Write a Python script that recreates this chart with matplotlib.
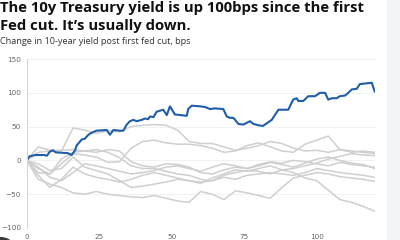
import numpy as np
import matplotlib
matplotlib.use("Agg")
import matplotlib.pyplot as plt
from matplotlib.patches import Rectangle, Circle

# ===== Data (bps change after first Fed cut) =====
# current cycle
cur_x = [0, 1, 3, 6, 7, 8, 9, 10, 13, 14, 15.5, 16.7, 17.2, 19, 20, 21.3, 22, 24, 27.6, 28.7,
         29.9, 32.2, 33.3, 34.5, 35.6, 36.8, 37.9, 39.7, 40.8, 41.9, 42.5, 43.7, 44.8, 47.1,
         48.3, 49.4, 51.1, 55.2, 55.7, 56.9, 59.8, 61.5, 63.2, 64.9, 67.8, 69, 70.1, 71.3,
         73, 74.7, 77, 78.2, 79.9, 81.5, 82.8, 84.5, 86.8, 90.2, 91.9, 93.1, 93.7, 95.4,
         97.1, 99.4, 101.1, 102.9, 104, 105.2, 106.9, 108, 109.8, 110.9, 112.1, 113.8,
         114.9, 117.2, 119, 120]
cur_y = [0, 6, 8, 8, 7, 13, 15, 12, 11, 11, 8, 15, 22, 31, 32, 38, 40, 44, 45, 38,
         45, 44, 44, 53, 58, 60, 58, 60, 62, 61, 65, 64, 72, 75,
         67, 80, 68, 66, 76, 81, 80, 79, 76, 77, 76, 65, 63, 63,
         54, 53, 58, 54, 52, 51, 55, 60, 75, 75, 90, 92, 88, 88,
         95, 95, 100, 100, 90, 92, 92, 95, 96, 100, 105, 106,
         113, 114, 115, 102]

# previous cycles, sampled every 4 days
prev_x = list(range(0, 121, 4))
prev_1 = [0, 12, 14, 14, 48, 45, 40, 44, 42, 50, 52, 53, 52, 45, 28, 25, 25, 20, 15, 18,
          22, 28, 25, 18, 14, 15, 12, 16, 14, 12, 10]
prev_2 = [0, -18, -20, -5, 10, 8, 5, -3, -2, 18, 28, 30, 26, 24, 24, 22, 18, 12, 14, 22,
          26, 20, 14, 12, 24, 30, 36, 16, 12, 14, 12]
prev_3 = [0, 20, 15, 15, 16, 14, 12, 16, 14, -2, -8, -10, -5, -6, -10, -18, -20, -14, -10, -12,
          -8, -3, -6, -10, -4, 2, 5, 0, -4, -6, -12]
prev_4 = [0, -12, -20, 2, 12, 14, 16, 12, 4, -8, -12, -12, -16, -20, -22, -28, -30, -22, -18, -15,
          -16, -20, -14, -12, -8, -4, 2, 6, 10, 8, 7]
prev_5 = [0, -22, -40, -28, -10, -20, -25, -28, -32, -28, -22, -18, -22, -26, -30, -34, -26, -20, -14, -16,
          -12, -8, -14, -18, -26, -30, -44, -58, -62, -68, -75]
prev_6 = [0, -28, -35, -40, -48, -50, -46, -50, -52, -54, -55, -52, -56, -60, -62, -46, -50, -58, -45, -48,
          -52, -56, -40, -26, -22, -18, -20, -24, -26, -28, -31]
prev_7 = [0, -5, -15, -12, 5, -10, -15, -20, -30, -40, -38, -35, -32, -28, -30, -32, -30, -25, -28, -22,
          -20, -18, -20, -22, -18, -12, -15, -18, -20, -22, -25]
prev_8 = [0, -10, -25, -30, -18, -5, -8, -12, -16, -20, -18, -15, -10, -8, -12, -16, -10, -5, -8, -12,
          -6, -2, -4, 0, -2, -5, -8, -3, -6, -8, -10]
prev_cycles = [prev_1, prev_2, prev_3, prev_4, prev_5, prev_6, prev_7, prev_8]

x_ticks = [0, 25, 50, 75, 100]
y_ticks = [-100, -50, 0, 50, 100, 150]

# ===== Plot =====
fig = plt.figure(figsize=(4, 2.4), dpi=100)
ax = fig.add_axes([0.0667, 0.05, 0.87, 0.704])

for ys in prev_cycles:
    ax.plot(prev_x, ys, color='#cfcfcf', linewidth=1.1, solid_joinstyle='round')
ax.plot(cur_x, cur_y, color='#1f5ea8', linewidth=1.5, solid_joinstyle='round')

ax.set_xlim(0, 120)
ax.set_ylim(-100, 150)
ax.set_xticks(x_ticks)
ax.set_yticks(y_ticks)
ax.tick_params(length=0, labelsize=5.2, colors='#666666', pad=4)
ax.grid(axis='y', color='#efefef', linewidth=0.6)
ax.set_axisbelow(True)
for s in ['top', 'right', 'bottom']:
    ax.spines[s].set_visible(False)
ax.spines['left'].set_color('#d6d6d6')
ax.spines['left'].set_linewidth(0.8)

# titles
fig.text(0.0, 1 - 11.7 / 240, "The 10y Treasury yield is up 100bps since the first",
         fontsize=10.7, fontweight='bold', family='Open Sans', color='#111111', va='baseline')
fig.text(0.0, 1 - 30 / 240, "Fed cut. It\u2019s usually down.",
         fontsize=10.7, fontweight='bold', family='Open Sans', color='#111111', va='baseline')
fig.text(0.0, 1 - 44.3 / 240, "Change in 10-year yield post first fed cut, bps",
         fontsize=6.6, family='Open Sans', color='#333333', va='baseline')

# right side panel and corner logo
fig.patches.append(Rectangle((387 / 400, 0), 13 / 400, 1, transform=fig.transFigure,
                             color='#f2f3f5', zorder=0))
fig.patches.append(Circle((0.0, -0.02), 0.03, transform=fig.transFigure,
                          color='#3a3a3a', zorder=5))

fig.savefig('out.png', dpi=100)
